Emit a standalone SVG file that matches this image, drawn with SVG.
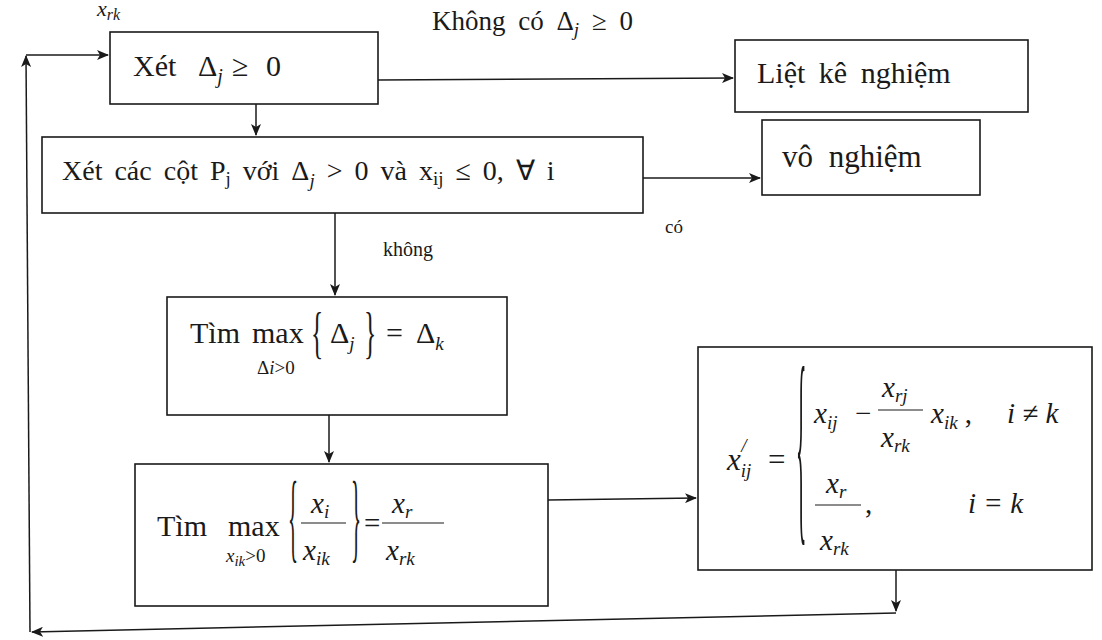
<svg xmlns="http://www.w3.org/2000/svg" width="1102" height="640" viewBox="0 0 1102 640">
<style>
.box{fill:none;stroke:#1a1a1a;stroke-width:1.6}
.ln{fill:none;stroke:#1a1a1a;stroke-width:1.5}
.fr{fill:none;stroke:#1a1a1a;stroke-width:1.2}
.t{fill:#1a1a1a}
.i{font-style:italic}
.n{font-style:normal}
</style>
<defs>
<marker id="ah" markerWidth="12" markerHeight="10" refX="11" refY="5" orient="auto" markerUnits="userSpaceOnUse">
<path d="M0,0 L12,5 L0,10 L3,5 z" fill="#1a1a1a"/>
</marker>
</defs>
<rect width="1102" height="640" fill="#ffffff"/>
<g font-family="'Liberation Serif','Times New Roman',serif" font-size="28">

<text class="t i" x="97" y="16" font-size="22">x<tspan font-size="16" dy="4">rk</tspan></text>

<g id="connectors">
<line class="ln" x1="896" y1="570" x2="896" y2="611" marker-end="url(#ah)"/>
<line class="ln" x1="896" y1="613" x2="32" y2="632" marker-end="url(#ah)"/>
<line class="ln" x1="30" y1="632" x2="26" y2="56" marker-end="url(#ah)"/>
<line class="ln" x1="26" y1="55" x2="108" y2="55" marker-end="url(#ah)"/>
<line class="ln" x1="378" y1="80" x2="733" y2="78" marker-end="url(#ah)"/>
<line class="ln" x1="256" y1="104" x2="256" y2="135" marker-end="url(#ah)"/>
<line class="ln" x1="643" y1="178" x2="760" y2="178" marker-end="url(#ah)"/>
<line class="ln" x1="335" y1="213" x2="335" y2="295" marker-end="url(#ah)"/>
<line class="ln" x1="329" y1="415" x2="329" y2="462" marker-end="url(#ah)"/>
<line class="ln" x1="548" y1="500" x2="696" y2="498" marker-end="url(#ah)"/>
<text class="t" x="432" y="30" font-size="27" word-spacing="6">Không có  Δ<tspan class="i" font-size="19" dy="6">j</tspan><tspan dy="-6"> ≥ 0</tspan></text>
<text class="t" x="665" y="233" font-size="19">có</text>
<text class="t" x="383" y="256" font-size="20">không</text>
</g>

<g id="n1">
<rect class="box" x="110" y="32" width="268" height="72"/>
<text class="t" x="133" y="76" font-size="30">Xét</text>
<text class="t" x="198" y="76" font-size="30">Δ<tspan class="i" font-size="20" dy="7">j</tspan></text>
<text class="t" x="232" y="76" font-size="30">≥</text>
<text class="t" x="266" y="76" font-size="30">0</text>
</g>

<g id="n2">
<rect class="box" x="735" y="40" width="293" height="72"/>
<text class="t" x="757" y="83" font-size="30" word-spacing="6">Liệt kê nghiệm</text>
</g>

<g id="n3">
<rect class="box" x="42" y="137" width="601" height="76"/>
<text class="t" x="62" y="180" font-size="28" word-spacing="5">Xét các cột P<tspan font-size="19" dy="5">j</tspan><tspan dy="-5"> với  Δ</tspan><tspan class="i" font-size="19" dy="7">j</tspan><tspan dy="-7"> &gt; 0  và x</tspan><tspan font-size="19" dy="5">ij</tspan><tspan dy="-5"> ≤ 0, ∀ i</tspan></text>
</g>

<g id="n4">
<rect class="box" x="762" y="120" width="218" height="75"/>
<text class="t" x="782" y="167" font-size="31" word-spacing="8">vô nghiệm</text>
</g>

<g id="n5">
<rect class="box" x="167" y="297" width="340" height="118"/>
<text class="t" x="190" y="343" font-size="30">Tìm</text>
<text class="t" x="252" y="343" font-size="30">max</text>
<text class="t" x="257" y="374" font-size="19">Δ<tspan class="i">i</tspan>&gt;0</text>
<text class="t" transform="translate(311,352) scale(0.85,1.9)" font-size="30">{</text>
<text class="t" x="330" y="343" font-size="30">Δ<tspan class="i" font-size="19" dy="7">j</tspan></text>
<text class="t" transform="translate(364,352) scale(0.85,1.9)" font-size="30">}</text>
<text class="t" x="386" y="343" font-size="30">=</text>
<text class="t" x="416" y="343" font-size="30">Δ<tspan class="i" font-size="19" dy="7">k</tspan></text>
</g>

<g id="n6">
<rect class="box" x="135" y="464" width="413" height="142"/>
<text class="t" x="157" y="536" font-size="30">Tìm</text>
<text class="t" x="228" y="536" font-size="30">max</text>
<text class="t i" x="226" y="562" font-size="19">x<tspan font-size="15" dy="4">ik</tspan><tspan class="n" dy="-4">&gt;0</tspan></text>
<text class="t" transform="translate(288,550) scale(0.7,3.3)" font-size="30">{</text>
<text class="t i" x="311" y="513" font-size="29">x<tspan font-size="19" dy="5">i</tspan></text>
<line class="fr" x1="301" y1="523" x2="346" y2="523"/>
<text class="t i" x="303" y="560" font-size="29">x<tspan font-size="19" dy="5">ik</tspan></text>
<text class="t" transform="translate(351,550) scale(0.7,3.3)" font-size="30">}</text>
<text class="t" x="364" y="533" font-size="29">=</text>
<text class="t i" x="392" y="513" font-size="29">x<tspan font-size="19" dy="5">r</tspan></text>
<line class="fr" x1="382" y1="523" x2="444" y2="523"/>
<text class="t i" x="386" y="560" font-size="29">x<tspan font-size="19" dy="5">rk</tspan></text>
</g>

<g id="n7">
<rect class="box" x="698" y="347" width="394" height="223"/>
<text class="t i" x="727" y="470" font-size="31">x<tspan font-size="19" dy="7">ij</tspan><tspan font-size="19" dx="-10" dy="-25">/</tspan></text>
<text class="t" x="768" y="470" font-size="31">=</text>
<text class="t" transform="translate(796,516) scale(0.4,4)" font-size="54">{</text>
<text class="t i" x="814" y="423" font-size="29">x<tspan font-size="19" dy="6">ij</tspan></text>
<text class="t" x="855" y="423" font-size="29">−</text>
<text class="t i" x="882" y="397" font-size="29">x<tspan font-size="19" dy="5">rj</tspan></text>
<line class="fr" x1="878" y1="410" x2="923" y2="410"/>
<text class="t i" x="881" y="447" font-size="29">x<tspan font-size="19" dy="5">rk</tspan></text>
<text class="t i" x="931" y="423" font-size="29">x<tspan font-size="19" dy="6">ik</tspan><tspan class="n" dy="-6"> ,</tspan></text>
<text class="t i" x="1007" y="423" font-size="29">i ≠ k</text>
<text class="t i" x="826" y="493" font-size="29">x<tspan font-size="19" dy="5">r</tspan></text>
<line class="fr" x1="815" y1="505" x2="861" y2="505"/>
<text class="t i" x="820" y="550" font-size="29">x<tspan font-size="19" dy="5">rk</tspan></text>
<text class="t" x="865" y="513" font-size="29">,</text>
<text class="t i" x="968" y="513" font-size="29">i = k</text>
</g>
</g>
</svg>
